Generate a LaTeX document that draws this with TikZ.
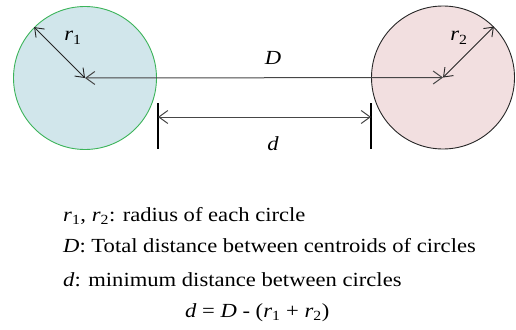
\documentclass[tikz,border=0pt]{standalone}
\usepackage{fontspec}
\setmainfont[FakeStretch=1.13]{Liberation Serif}
\usetikzlibrary{arrows.meta}
\definecolor{bluefill}{RGB}{209,230,235}
\definecolor{greenline}{RGB}{60,180,90}
\definecolor{pinkfill}{RGB}{242,223,224}
\definecolor{arrowgray}{RGB}{70,70,70}
\newcommand{\ri}[1]{\textit{r}\textsubscript{#1}}
\begin{document}
\begin{tikzpicture}[x=1pt,y=-1pt,
  disc/.style={circle,minimum size=143pt,inner sep=0pt,line width=0.9pt},
  dim/.style={draw=arrowgray,line width=1pt,{Straight Barb[length=9pt,width=13pt]}-{Straight Barb[length=9pt,width=13pt]}},
  rad/.style={draw=black!85,line width=0.9pt,{Straight Barb[length=8pt,width=12pt]}-{Straight Barb[length=8pt,width=12pt]}},
  bar/.style={draw=black,line width=1.3pt},
  lbl/.style={font=\fontsize{20}{24}\selectfont,inner sep=0pt,anchor=base}]
\useasboundingbox (0,0) rectangle (516,329);
\node[disc,draw=greenline,fill=bluefill] (c1) at (85,78) {};
\node[disc,draw=black!85,fill=pinkfill] (c2) at (443,77.5) {};
\draw[dim] (c1.center) -- (c2.center);
\draw[rad] (c1.135) -- (c1.center);
\draw[rad] (c2.center) -- (c2.45);
\coordinate (b1t) at (158,103);
\coordinate (b1b) at (158,149);
\coordinate (b2t) at (371,103);
\coordinate (b2b) at (371,149);
\coordinate (d1) at (158,117);
\coordinate (d2) at (371,117);
\draw[bar] (b1t) -- (b1b);
\draw[bar] (b2t) -- (b2b);
\draw[dim] (d1) -- (d2);
\node[lbl] (lD) at (273,64) {\textit{D}};
\node[lbl] (ld) at (273,150) {\textit{d}};
\node[lbl] (lr1) at (73,41) {\ri{1}};
\node[lbl] (lr2) at (459,41) {\ri{2}};
\node[lbl,anchor=base west] (t1) at (63,221) {\ri{1}, \ri{2}: radius of each circle};
\node[lbl,anchor=base west] (t2) at (63,252) {\textit{D}: Total distance between centroids of circles};
\node[lbl,anchor=base west] (t3) at (63,286) {\textit{d}: minimum distance between circles};
\node[lbl,anchor=base west] (t4) at (185,317) {\textit{d} = \textit{D} - (\ri{1} + \ri{2})};
\end{tikzpicture}
\end{document}
